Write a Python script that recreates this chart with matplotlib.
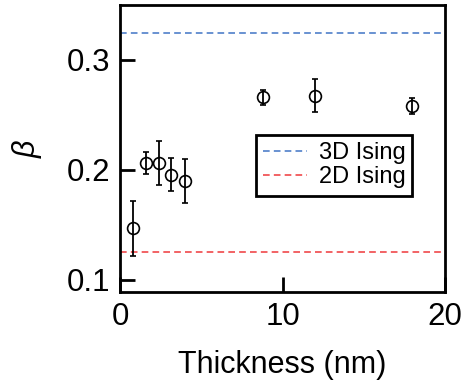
import matplotlib
matplotlib.use("Agg")
import matplotlib.pyplot as plt

plt.rcParams['font.family'] = ['Liberation Sans', 'DejaVu Sans']
plt.rcParams['mathtext.fontset'] = 'custom'
plt.rcParams['mathtext.it'] = 'Liberation Sans:italic'

# Critical exponent beta versus flake thickness
thickness = [0.78, 1.6, 2.38, 3.16, 4.02, 8.77, 11.99, 17.97]
beta = [0.147, 0.206, 0.206, 0.1955, 0.190, 0.266, 0.2673, 0.258]
beta_err = [0.025, 0.010, 0.020, 0.015, 0.020, 0.007, 0.015, 0.007]

ising_3d = 0.325
ising_2d = 0.125

fig = plt.figure(figsize=(4.61, 3.80), dpi=100)
ax = fig.add_axes([0.2603, 0.2316, 0.705, 0.7552])

ax.axhline(ising_3d, color='#4f7fc9', ls=(0, (4, 2.5)), lw=1.2, label='3D Ising')
ax.axhline(ising_2d, color='#f0484a', ls=(0, (4, 2.5)), lw=1.2, label='2D Ising')

ax.errorbar(thickness, beta, yerr=beta_err, fmt='o', mfc='none', mec='black',
            ms=8.5, mew=1.2, ecolor='black', elinewidth=1.3, capsize=2.5, capthick=1.3)

ax.set_xlim(0, 20)
ax.set_ylim(0.089, 0.35)
ax.set_xticks([0, 10, 20])
ax.set_yticks([0.1, 0.2, 0.3])
ax.set_yticklabels(['0.1', '0.2', '0.3'])

for s in ax.spines.values():
    s.set_linewidth(2)
ax.tick_params(direction='in', length=11, width=2, labelsize=22.5, pad=7,
               top=False, right=False)

ax.set_xlabel('Thickness (nm)', fontsize=22, labelpad=13)
ax.set_ylabel(r'$\beta$', fontsize=22, labelpad=16)

leg = ax.legend(loc='upper left', bbox_to_anchor=(0.418, 0.547), fontsize=17,
                frameon=True, fancybox=False, edgecolor='black', framealpha=1,
                handlelength=1.86, borderpad=0.3, labelspacing=0.1, handletextpad=0.5,
                borderaxespad=0)
leg.get_frame().set_linewidth(2)

fig.savefig('out.png', dpi=100)
